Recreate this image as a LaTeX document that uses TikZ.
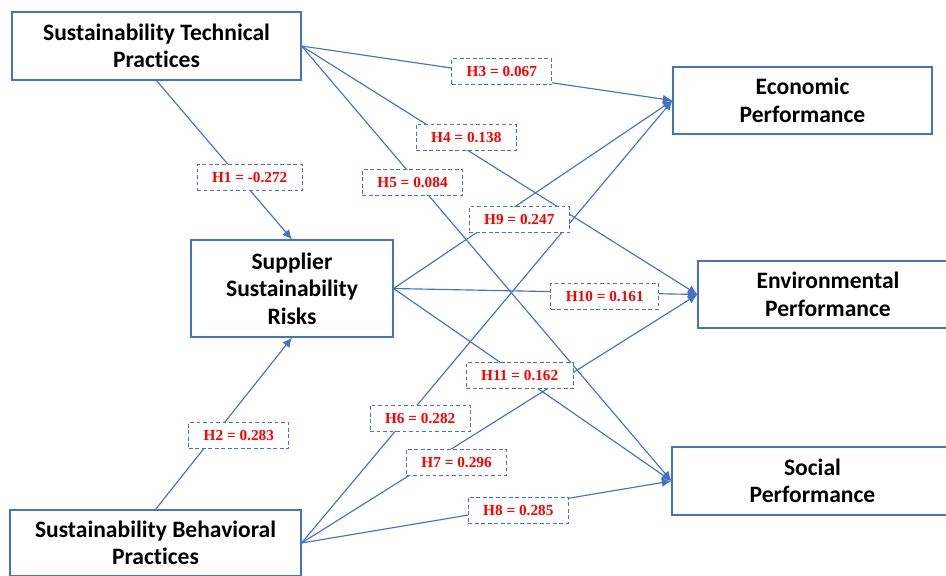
\documentclass[tikz,border=0pt]{standalone}
\usepackage{fontspec}
\setmainfont{Liberation Serif}
\newfontfamily\kastenfont[Ligatures=CommonOff]{Carlito}
\usetikzlibrary{arrows.meta}
\definecolor{blau}{HTML}{4472C4}

\begin{document}
\begin{tikzpicture}
		[
		x=0.02cm, y=-0.02cm, >={Latex[length=5.5pt,width=5pt]},
		%Voreinstellungen
		kasten/.style={draw=blau, line width=0.65pt, align=center, inner sep=0pt,
			font={\kastenfont\bfseries\fontsize{13.4}{15.6}\selectfont}},
		wert/.style={draw=blau, line width=0.6pt, dash pattern=on 2.2pt off 1.5pt, fill=white,
			text=red, inner xsep=8.5pt, minimum height=0.52cm,
			font={\bfseries\fontsize{8.7}{10}\selectfont}},
		pfeil/.style={->, draw=blau, line width=0.65pt}
		]
		
		%Rahmen
		\useasboundingbox (0,0) rectangle (946,575);
		
		%Kästen links
		\node[kasten, minimum width=5.78cm, minimum height=1.36cm] (stp) at (156.5,46) {Sustainability Technical\\Practices};
		\node[kasten, minimum width=4.04cm, minimum height=1.94cm] (ssr) at (292,288.5) {Supplier\\Sustainability\\Risks};
		\node[kasten, minimum width=5.82cm, minimum height=1.32cm] (sbp) at (155.5,543) {Sustainability Behavioral\\Practices};
		
		%Kästen rechts
		\node[kasten, minimum width=5.18cm, minimum height=1.34cm] (ep) at (802.5,100.5) {Economic\\Performance};
		\node[kasten, minimum width=5.2cm, minimum height=1.34cm] (env) at (828,294.5) {Environmental\\Performance};
		\node[kasten, minimum width=5.62cm, minimum height=1.36cm] (sop) at (812.5,481) {Social\\Performance};
		
		%Pfeile zu den Risiken
		\draw[pfeil] (stp.south) -- node[wert, pos=.61, xshift=6pt] (h1) {H1 = -0.272} (ssr.north);
		\draw[pfeil] (sbp.north) -- node[wert, pos=.43, xshift=14pt] (h2) {H2 = 0.283} (ssr.south);
		
		%Pfeile von den technischen Praktiken
		\draw[pfeil] (stp.east) -- node[wert, pos=.54, yshift=2pt] (h3) {H3 = 0.067} (ep.west);
		\draw[pfeil] (stp.east) -- node[wert, pos=.416, yshift=7pt] (h4) {H4 = 0.138} (env.west);
		\draw[pfeil] (stp.east) -- node[wert, pos=.30, yshift=-3.5pt] (h5) {H5 = 0.084} (sop.west);
		
		%Pfeile von den Verhaltenspraktiken
		\draw[pfeil] (sbp.east) -- node[wert, pos=.282, xshift=8pt] (h6) {H6 = 0.282} (ep.west);
		\draw[pfeil] (sbp.east) -- node[wert, pos=.325, xshift=15pt] (h7) {H7 = 0.296} (env.west);
		\draw[pfeil] (sbp.east) -- node[wert, pos=.586, yshift=-2pt] (h8) {H8 = 0.285} (sop.west);
		
		%Pfeile von den Risiken
		\draw[pfeil] (ssr.east) -- node[wert, pos=.365, xshift=13.6pt] (h9) {H9 = 0.247} (ep.west);
		\draw[pfeil] (ssr.east) -- node[wert, pos=.695, yshift=-2pt] (h10) {H10 = 0.161} (env.west);
		\draw[pfeil] (ssr.east) -- node[wert, pos=.454] (h11) {H11 = 0.162} (sop.west);
		
\end{tikzpicture}
\end{document}
